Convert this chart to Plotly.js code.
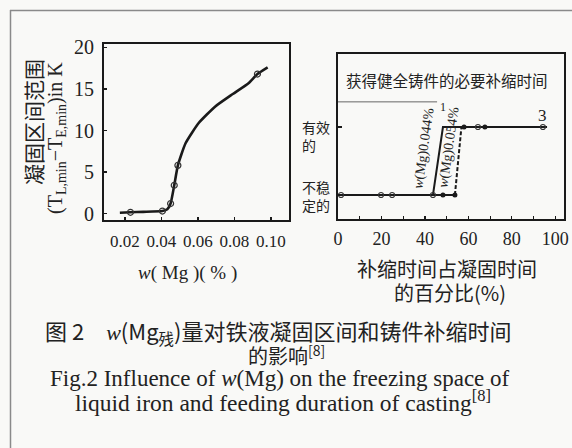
<!DOCTYPE html>
<html>
<head>
<meta charset="utf-8">
<script src="https://cdn.plot.ly/plotly-3.0.1.min.js"></script>
<style>
html,body{margin:0;padding:0;background:#f9f9f7;}
#chart{width:572px;height:448px;}
</style>
</head>
<body>
<div id="chart"></div>
<script>
// ---- Left panel: freezing range vs w(Mg) ----
const curveMg    = [0.0172, 0.023, 0.030, 0.0405, 0.0432, 0.045, 0.047, 0.049, 0.0532, 0.0604, 0.0695, 0.0791, 0.0877, 0.0926, 0.0982];
const curveRange = [0.1,    0.15,  0.2,   0.3,    0.5,    1.2,   3.4,   5.8,   8.46,   10.9,   12.9,   14.4,   15.7,   16.8,   17.6];
const markMg     = [0.023, 0.0405, 0.045, 0.047, 0.049, 0.0926];
const markRange  = [0.15,  0.3,    1.2,   3.4,   5.8,   16.8];
const leftXTicks = [0.02, 0.04, 0.06, 0.08, 0.10];
const leftYTicks = [0, 5, 10, 15, 20];

// ---- Right panel: feeding state vs feeding-time share (%) ----
// state: 0 = 不稳定的, 1 = 有效的
const feed1X = [1.4, 43.7, 48.3, 96.2];   // curve 1, w(Mg)=0.044%
const feed1Y = [0,   0,    1,    1];
const feed2X = [43.7, 53.8, 56.8];        // curve 2, w(Mg)=0.054%
const feed2Y = [0,    0,    1];
const openX  = [1.4, 19.8, 24.9, 43.7, 64.4, 94.3];
const openY  = [0,   0,    0,    0,    1,    1];
const fillX  = [48.3, 53.8, 58, 67.6];
const fillY  = [0,    0,    1,  1];
const guideX = [0, 45.6];
const guideY = [1.37, 1.37];
const rightXTicks = [0, 20, 40, 60, 80, 100];
const stateLabels = ['不稳<br>定的', '有效<br>的'];
const curveLabels = ['<i>w</i>(Mg)0.044%', '<i>w</i>(Mg)0.054%', '1', '3'];

const W = 572, H = 448;
const px = v => v / W;
const py = v => 1 - v / H;
const INK = '#1a1a1a';
const SERIF = 'Liberation Serif, Times New Roman, serif';
const CJK = 'Noto Sans CJK SC, sans-serif';

const traces = [
  {x: curveMg, y: curveRange, xaxis: 'x', yaxis: 'y', mode: 'lines',
   line: {color: INK, width: 2.6, shape: 'spline', smoothing: 0.5}, hoverinfo: 'skip'},
  {x: markMg, y: markRange, xaxis: 'x', yaxis: 'y', mode: 'markers',
   marker: {symbol: 'circle-open', size: 6, color: '#333', line: {width: 1.2}}},
  {x: guideX, y: guideY, xaxis: 'x2', yaxis: 'y2', mode: 'lines',
   line: {color: '#666', width: 1}},
  {x: feed1X, y: feed1Y, xaxis: 'x2', yaxis: 'y2', mode: 'lines',
   line: {color: INK, width: 2}},
  {x: feed2X.slice(0, 2), y: feed2Y.slice(0, 2), xaxis: 'x2', yaxis: 'y2', mode: 'lines',
   line: {color: INK, width: 2}},
  {x: feed2X.slice(1), y: feed2Y.slice(1), xaxis: 'x2', yaxis: 'y2', mode: 'lines',
   line: {color: INK, width: 2, dash: '4px,2px'}},
  {x: openX, y: openY, xaxis: 'x2', yaxis: 'y2', mode: 'markers',
   marker: {symbol: 'circle-open', size: 5, color: '#333', line: {width: 1.2}}},
  {x: fillX, y: fillY, xaxis: 'x2', yaxis: 'y2', mode: 'markers',
   marker: {symbol: 'circle', size: 5, color: INK}}
];

const axisBase = {showgrid: false, zeroline: false, showline: true, mirror: true,
  linecolor: INK, linewidth: 2, ticks: 'inside', tickcolor: INK, ticklen: 3, tickwidth: 1.2};

function note(x, y, text, font, extra) {
  return Object.assign({xref: 'paper', yref: 'paper', x: px(x), y: py(y), text: text,
    showarrow: false, xanchor: 'center', yanchor: 'middle', font: font}, extra || {});
}
const f = (fam, size) => ({family: fam, size: size, color: '#222'});

const layout = {
  width: W, height: H, showlegend: false,
  margin: {l: 0, r: 0, t: 0, b: 0},
  paper_bgcolor: '#f9f9f7', plot_bgcolor: 'rgba(0,0,0,0)',
  xaxis: Object.assign({}, axisBase, {domain: [px(104), px(289)], range: [0.0085, 0.1099],
    tickvals: leftXTicks, tickformat: '.2f', anchor: 'y',
    tickfont: f(SERIF, 17), ticklabelstandoff: 5}),
  yaxis: Object.assign({}, axisBase, {domain: [py(220), py(44)], range: [-0.78, 20.42],
    tickvals: leftYTicks, anchor: 'x',
    tickfont: f(SERIF, 20), ticklabelstandoff: 4}),
  xaxis2: Object.assign({}, axisBase, {domain: [px(338), px(564)], range: [0, 104],
    tickvals: rightXTicks, anchor: 'y2',
    minor: {dtick: 10, tick0: 0, ticks: 'inside', ticklen: 3, tickcolor: INK},
    tickfont: f(SERIF, 18), ticklabelstandoff: 2}),
  yaxis2: Object.assign({}, axisBase, {domain: [py(219), py(54)], range: [-0.353, 2.074],
    tickvals: [0, 1], ticklen: 4, showticklabels: false, anchor: 'x2'}),
  shapes: [
    {type: 'line', xref: 'paper', yref: 'paper', x0: px(10), x1: 1, y0: py(10.5), y1: py(10.5),
     line: {color: '#8a8a8a', width: 1.5}},
    {type: 'line', xref: 'paper', yref: 'paper', x0: px(10.5), x1: px(10.5), y0: py(10), y1: 0,
     line: {color: '#8a8a8a', width: 1.5}}
  ],
  annotations: [
    // left panel titles
    note(33, 122, '凝固区间范围', f(CJK, 21), {textangle: -90}),
    note(56, 138, '(T<sub>L,min</sub>−T<sub>E,min</sub>)in K', f(SERIF, 20), {textangle: -90}),
    note(187, 273, '<i>w</i>( Mg )( % )', f(SERIF, 19)),
    // right panel texts
    note(447, 80, '获得健全铸件的必要补缩时间', f(CJK, 15.5)),
    note(300, 136, stateLabels[1], f(CJK, 14), {xanchor: 'left', align: 'left'}),
    note(300, 196, stateLabels[0], f(CJK, 14), {xanchor: 'left', align: 'left'}),
    note(424, 148, curveLabels[0], f(SERIF, 14), {textangle: -82}),
    note(449, 147, curveLabels[1], f(SERIF, 14), {textangle: -82}),
    note(443, 107, curveLabels[2], f(SERIF, 12)),
    note(542, 116, curveLabels[3], f(SERIF, 17)),
    note(447, 268, '补缩时间占凝固时间', f(CJK, 20)),
    note(450, 292, '的百分比(%)', f(CJK, 20)),
    // caption
    note(278, 331, '图 2　<i style="font-family:Liberation Serif">w</i>(Mg<sub>残</sub>)量对铁液凝固区间和铸件补缩时间', f(CJK, 22)),
    note(286, 355, '的影响<sup>[8]</sup>', f(CJK, 20)),
    note(280, 378, 'Fig.2 Influence of <i>w</i>(Mg) on the freezing space of', f(SERIF, 23)),
    note(283, 401, 'liquid iron and feeding duration of casting<sup>[8]</sup>', f(SERIF, 23.5))
  ]
};

Plotly.newPlot('chart', traces, layout, {staticPlot: true, displayModeBar: false});
</script>
</body>
</html>
